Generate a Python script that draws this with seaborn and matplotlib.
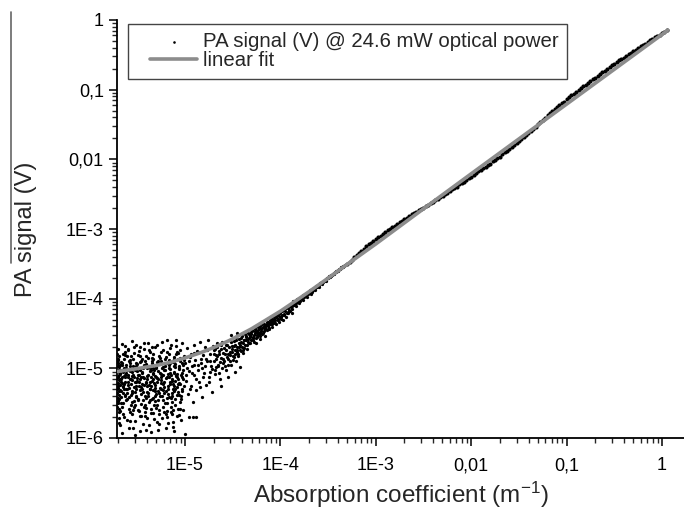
import matplotlib
matplotlib.use("Agg")
import matplotlib.pyplot as plt
import numpy as np
import pandas as pd
import seaborn as sns
from matplotlib.lines import Line2D
from matplotlib.collections import PathCollection
from matplotlib.legend_handler import HandlerLine2D, HandlerPathCollection
from matplotlib.ticker import NullFormatter

# ---- data (log10 of x and y for the scatter) ----
# dense noisy cloud, left edge up to 1E-5
cloud_a = [
    (-5.70, -5.21), (-5.69, -4.98), (-5.70, -5.47), (-5.68, -5.08), (-5.69, -5.62), (-5.70, -4.86), (-5.67, -5.33), (-5.68, -5.15), (-5.69, -5.79), (-5.66, -5.02),
    (-5.67, -4.91), (-5.65, -5.26), (-5.66, -5.55), (-5.64, -5.11), (-5.65, -4.79), (-5.63, -5.38), (-5.64, -5.70), (-5.62, -4.95), (-5.63, -5.19), (-5.61, -5.44),
    (-5.62, -5.06), (-5.60, -4.72), (-5.61, -5.29), (-5.59, -5.58), (-5.60, -5.13), (-5.58, -4.88), (-5.59, -5.86), (-5.57, -5.23), (-5.58, -5.01), (-5.56, -5.49),
    (-5.57, -4.83), (-5.55, -5.17), (-5.56, -5.66), (-5.54, -4.97), (-5.55, -5.35), (-5.53, -4.69), (-5.54, -5.09), (-5.52, -5.52), (-5.53, -5.27), (-5.51, -4.92),
    (-5.52, -5.75), (-5.50, -5.04), (-5.51, -5.41), (-5.49, -4.81), (-5.50, -5.18), (-5.48, -5.61), (-5.49, -4.99), (-5.47, -5.31), (-5.48, -4.75), (-5.46, -5.12),
    (-5.47, -5.90), (-5.45, -5.22), (-5.46, -4.89), (-5.44, -5.46), (-5.45, -5.05), (-5.43, -4.64), (-5.44, -5.34), (-5.42, -5.69), (-5.43, -5.14), (-5.41, -4.94),
    (-5.42, -5.39), (-5.40, -5.00), (-5.41, -5.57), (-5.39, -4.85), (-5.40, -5.25), (-5.38, -5.82), (-5.39, -5.10), (-5.37, -4.77), (-5.38, -5.48), (-5.36, -5.03),
    (-5.37, -5.30), (-5.35, -4.93), (-5.36, -5.64), (-5.34, -5.16), (-5.35, -4.70), (-5.33, -5.43), (-5.34, -5.07), (-5.32, -5.73), (-5.33, -4.87), (-5.31, -5.24),
    (-5.32, -5.53), (-5.30, -4.98), (-5.31, -5.11), (-5.29, -4.66), (-5.30, -5.37), (-5.28, -5.88), (-5.29, -5.20), (-5.27, -4.82), (-5.28, -5.45), (-5.26, -5.06),
    (-5.27, -5.60), (-5.25, -4.90), (-5.26, -5.28), (-5.24, -5.71), (-5.25, -5.13), (-5.23, -4.73), (-5.24, -5.40), (-5.22, -5.02), (-5.23, -5.55), (-5.21, -4.86),
    (-5.22, -5.19), (-5.20, -5.66), (-5.21, -4.96), (-5.19, -4.59), (-5.20, -5.32), (-5.18, -5.08), (-5.19, -5.50), (-5.17, -4.80), (-5.18, -5.78), (-5.16, -5.23),
    (-5.17, -5.00), (-5.15, -5.42), (-5.16, -4.71), (-5.14, -5.15), (-5.15, -5.62), (-5.13, -4.91), (-5.14, -5.35), (-5.12, -5.05), (-5.13, -5.84), (-5.11, -4.84),
    (-5.12, -5.26), (-5.10, -5.52), (-5.11, -4.97), (-5.09, -4.68), (-5.10, -5.18), (-5.08, -5.69), (-5.09, -5.09), (-5.07, -4.78), (-5.08, -5.38), (-5.06, -5.01),
    (-5.07, -5.58), (-5.05, -4.89), (-5.06, -5.21), (-5.04, -5.44), (-5.05, -4.74), (-5.03, -5.12), (-5.04, -5.74), (-5.02, -4.95), (-5.03, -5.30), (-5.01, -4.82),
    (-5.71, -5.05), (-5.71, -5.30), (-5.70, -5.12), (-5.71, -5.55), (-5.69, -5.38), (-5.70, -4.93), (-5.68, -5.24), (-5.71, -4.80), (-5.67, -5.50), (-5.66, -5.93),
    (-5.64, -5.00), (-5.62, -5.30), (-5.58, -5.15), (-5.55, -5.05), (-5.52, -5.20), (-5.49, -5.09), (-5.46, -5.27), (-5.43, -4.97), (-5.40, -5.15), (-5.37, -5.19),
    (-5.34, -4.99), (-5.31, -5.33), (-5.28, -5.04), (-5.25, -5.21), (-5.22, -4.92), (-5.19, -5.13), (-5.16, -5.01), (-5.13, -5.23), (-5.10, -4.94), (-5.07, -5.15),
    (-5.52, -5.95), (-5.36, -5.91), (-5.58, -5.76), (-5.44, -5.80), (-5.20, -5.86), (-5.11, -5.90), (-5.63, -4.68), (-5.56, -4.61), (-5.47, -4.70), (-5.39, -4.63),
]

# more of the same cloud
cloud_e = [
    (-5.695, -5.17), (-5.642, -4.87), (-5.583, -5.41), (-5.521, -5.03), (-5.478, -5.26), (-5.413, -4.82), (-5.357, -5.58), (-5.296, -5.14), (-5.238, -4.99), (-5.174, -5.37),
    (-5.118, -5.06), (-5.057, -5.22), (-5.686, -5.44), (-5.631, -5.09), (-5.574, -4.93), (-5.509, -5.29), (-5.456, -5.51), (-5.398, -5.11), (-5.342, -4.90), (-5.281, -5.33),
    (-5.223, -5.62), (-5.162, -4.88), (-5.103, -5.30), (-5.044, -5.09), (-5.703, -4.96), (-5.654, -5.66), (-5.597, -5.20), (-5.538, -4.78), (-5.487, -5.44), (-5.429, -5.24),
    (-5.371, -5.04), (-5.312, -5.47), (-5.254, -5.17), (-5.196, -4.84), (-5.139, -5.48), (-5.081, -5.27), (-5.024, -5.03), (-5.677, -5.31), (-5.618, -4.99), (-5.561, -5.53),
    (-5.503, -5.14), (-5.447, -4.86), (-5.389, -5.36), (-5.331, -5.08), (-5.273, -5.65), (-5.215, -5.27), (-5.157, -5.06), (-5.099, -4.79), (-5.041, -5.40), (-5.708, -5.36),
    (-5.664, -5.13), (-5.609, -4.83), (-5.552, -5.32), (-5.494, -5.60), (-5.437, -5.00), (-5.379, -4.74), (-5.321, -5.21), (-5.262, -5.39), (-5.204, -5.02), (-5.146, -5.55),
    (-5.088, -5.13), (-5.031, -4.92), (-5.691, -5.58), (-5.636, -5.22), (-5.579, -5.04), (-5.516, -4.96), (-5.462, -5.37), (-5.404, -5.19), (-5.347, -4.85), (-5.288, -5.52),
    (-5.231, -5.10), (-5.169, -4.95), (-5.112, -5.33), (-5.052, -5.58), (-5.699, -4.88), (-5.647, -5.50), (-5.588, -5.28), (-5.529, -5.12), (-5.471, -4.91), (-5.418, -5.63),
    (-5.362, -5.29), (-5.303, -5.00), (-5.246, -4.77), (-5.188, -5.43), (-5.131, -5.18), (-5.073, -4.86), (-5.015, -5.25), (-5.681, -5.03), (-5.625, -4.76), (-5.567, -5.15),
    (-5.512, -5.39), (-5.451, -5.07), (-5.393, -5.71), (-5.336, -5.31), (-5.277, -4.94), (-5.219, -5.36), (-5.158, -5.20), (-5.106, -4.98), (-5.047, -5.48), (-5.706, -5.26),
    (-5.659, -4.95), (-5.603, -5.35), (-5.546, -5.60), (-5.483, -5.20), (-5.425, -4.95), (-5.366, -5.46), (-5.308, -5.12), (-5.249, -5.30), (-5.192, -4.93), (-5.135, -5.66),
    (-5.077, -5.34), (-5.019, -5.16), (-5.688, -5.72), (-5.629, -5.40), (-5.571, -4.97), (-5.515, -5.25), (-5.459, -5.68), (-5.401, -5.34), (-5.344, -5.18), (-5.285, -4.89),
    (-5.227, -5.45), (-5.171, -5.12), (-5.115, -4.90), (-5.061, -5.38), (-5.693, -5.09), (-5.638, -5.30), (-5.581, -5.62), (-5.524, -5.34), (-5.468, -5.03), (-5.409, -5.43),
    (-5.352, -5.25), (-5.293, -5.77), (-5.235, -5.23), (-5.177, -5.29), (-5.121, -5.60), (-5.064, -4.97), (-5.701, -5.42), (-5.651, -5.27), (-5.594, -5.09), (-5.534, -5.47),
    (-5.476, -5.16), (-5.421, -5.53), (-5.368, -4.99), (-5.309, -5.40), (-5.251, -5.08), (-5.193, -5.61), (-5.136, -5.40), (-5.079, -5.08), (-5.021, -5.60), (-5.672, -5.19),
]

cloud_h = [
    (-5.712, -5.14), (-5.709, -4.90), (-5.705, -5.50), (-5.702, -5.02), (-5.698, -5.28), (-5.694, -4.83), (-5.690, -5.33), (-5.685, -5.07), (-5.682, -4.95), (-5.679, -5.61),
    (-5.673, -5.15), (-5.669, -5.41), (-5.661, -4.92), (-5.656, -5.21), (-5.649, -5.05), (-5.645, -5.36), (-5.633, -4.81), (-5.627, -5.12), (-5.615, -5.45), (-5.606, -5.02),
    (-5.592, -5.24), (-5.585, -4.90), (-5.569, -5.38), (-5.558, -5.11), (-5.543, -4.86), (-5.535, -5.56), (-5.518, -5.19), (-5.505, -4.94), (-5.491, -5.46), (-5.482, -5.10),
    (-5.466, -4.83), (-5.453, -5.29), (-5.441, -5.13), (-5.432, -5.55), (-5.416, -4.90), (-5.407, -5.21), (-5.391, -5.40), (-5.383, -4.97), (-5.374, -5.24), (-5.359, -5.12),
    (-5.349, -5.44), (-5.334, -4.79), (-5.326, -5.03), (-5.315, -5.28), (-5.301, -5.57), (-5.292, -4.91), (-5.283, -5.16), (-5.269, -5.35), (-5.258, -4.85), (-5.244, -5.09),
    (-5.233, -5.31), (-5.226, -4.98), (-5.212, -5.50), (-5.201, -5.14), (-5.186, -4.76), (-5.179, -5.25), (-5.166, -5.41), (-5.153, -4.93), (-5.144, -5.09), (-5.128, -5.30),
    (-5.119, -4.87), (-5.108, -5.44), (-5.094, -5.11), (-5.086, -4.77), (-5.069, -5.23), (-5.058, -5.00), (-5.049, -4.85), (-5.036, -5.33), (-5.027, -5.07), (-5.012, -4.88),
    (-5.685, -5.82), (-5.611, -5.74), (-5.542, -5.85), (-5.474, -5.69), (-5.406, -5.88), (-5.338, -5.64), (-5.269, -5.80), (-5.189, -5.70), (-5.128, -5.77), (-5.066, -5.67),
    (-5.706, -4.72), (-5.660, -4.65), (-5.602, -4.74), (-5.511, -4.66), (-5.432, -4.72), (-5.318, -4.70), (-5.241, -4.62), (-5.151, -4.66), (-5.093, -4.60), (-5.029, -4.64),
]

# 1E-5 to 2E-5
cloud_b = [
    (-5.00, -4.92), (-4.99, -5.18), (-4.98, -4.71), (-4.97, -5.37), (-4.96, -5.04), (-4.95, -4.84), (-4.94, -5.26), (-4.93, -4.97), (-4.92, -5.48), (-4.91, -4.66),
    (-4.90, -5.10), (-4.89, -4.88), (-4.88, -5.31), (-4.87, -4.75), (-4.86, -5.02), (-4.85, -5.19), (-4.84, -4.62), (-4.83, -4.93), (-4.82, -5.41), (-4.81, -4.81),
    (-4.80, -5.07), (-4.79, -4.70), (-4.78, -5.24), (-4.77, -4.89), (-4.76, -4.60), (-4.75, -5.12), (-4.74, -4.79), (-4.73, -4.97), (-4.72, -5.34), (-4.71, -4.68),
    (-4.98, -5.00), (-4.94, -4.80), (-4.90, -4.95), (-4.86, -4.77), (-4.82, -5.00), (-4.78, -4.86), (-4.74, -5.05),
    (-4.96, -5.70), (-4.92, -5.70), (-4.88, -5.70), (-5.00, -5.94),
]

# 2E-5 to 5E-5
cloud_c = [
    (-4.70, -4.90), (-4.69, -4.72), (-4.68, -5.08), (-4.67, -4.81), (-4.66, -4.64), (-4.65, -4.96), (-4.64, -4.75), (-4.63, -5.15), (-4.62, -4.85), (-4.61, -4.62),
    (-4.60, -4.93), (-4.59, -4.71), (-4.58, -4.80), (-4.57, -5.02), (-4.56, -4.66), (-4.55, -4.87), (-4.54, -4.59), (-4.53, -4.76), (-4.52, -4.95), (-4.51, -4.68),
    (-4.50, -4.82), (-4.49, -4.61), (-4.48, -4.73), (-4.47, -4.90), (-4.46, -4.55), (-4.45, -4.69), (-4.44, -4.80), (-4.43, -4.58), (-4.42, -4.66), (-4.41, -4.75),
    (-4.40, -4.54), (-4.39, -4.63), (-4.38, -4.71), (-4.37, -4.51), (-4.36, -4.59), (-4.35, -4.67), (-4.34, -4.49), (-4.33, -4.56), (-4.32, -4.63), (-4.31, -4.48),
    (-4.55, -5.12), (-4.48, -5.05), (-4.62, -5.25), (-4.42, -4.98), (-4.52, -4.52), (-4.45, -4.50),
]

# extra points 1E-5 .. 1.3E-4
cloud_f = [
    (-4.985, -5.09), (-4.962, -4.90), (-4.947, -5.30), (-4.923, -5.06), (-4.905, -4.78), (-4.884, -5.15), (-4.867, -4.95), (-4.846, -5.27), (-4.828, -4.86), (-4.809, -5.13),
    (-4.791, -4.96), (-4.773, -4.74), (-4.752, -5.20), (-4.734, -4.90), (-4.716, -5.01), (-4.698, -4.80), (-4.677, -4.98), (-4.659, -4.83), (-4.638, -5.06), (-4.621, -4.72),
    (-4.603, -4.86), (-4.584, -4.97), (-4.566, -4.74), (-4.548, -4.80), (-4.527, -4.89), (-4.508, -4.72), (-4.489, -4.84), (-4.471, -4.66), (-4.452, -4.77), (-4.433, -4.70),
    (-4.415, -4.62), (-4.396, -4.73), (-4.377, -4.60), (-4.359, -4.53), (-4.341, -4.62), (-4.322, -4.55), (-4.304, -4.51), (-4.286, -4.57), (-4.268, -4.47), (-4.249, -4.52),
    (-4.231, -4.45), (-4.213, -4.53), (-4.195, -4.42), (-4.176, -4.46), (-4.158, -4.40), (-4.139, -4.37), (-4.121, -4.43), (-4.103, -4.34), (-4.085, -4.37), (-4.066, -4.34),
    (-4.048, -4.37), (-4.029, -4.31), (-4.011, -4.33), (-3.993, -4.27), (-3.975, -4.30), (-3.957, -4.24), (-3.938, -4.26), (-3.919, -4.20), (-3.901, -4.18), (-3.883, -4.21),
]

# transition band 2E-5 .. 5E-4
cloud_g = [
    (-4.695, -4.74), (-4.687, -5.02), (-4.672, -4.86), (-4.664, -4.69), (-4.651, -4.95), (-4.643, -4.79), (-4.628, -4.91), (-4.619, -4.66), (-4.607, -4.99), (-4.596, -4.78),
    (-4.588, -4.90), (-4.574, -4.67), (-4.563, -4.84), (-4.552, -4.95), (-4.541, -4.70), (-4.533, -4.81), (-4.519, -4.62), (-4.507, -4.77), (-4.498, -4.88), (-4.486, -4.68),
    (-4.474, -4.79), (-4.463, -4.60), (-4.455, -4.73), (-4.442, -4.83), (-4.431, -4.64), (-4.423, -4.74), (-4.411, -4.57), (-4.404, -4.69), (-4.392, -4.78), (-4.383, -4.59),
    (-4.371, -4.67), (-4.362, -4.55), (-4.353, -4.72), (-4.344, -4.58), (-4.333, -4.51), (-4.325, -4.64), (-4.317, -4.54), (-4.306, -4.60), (-4.297, -4.47), (-4.288, -4.55),
    (-4.279, -4.62), (-4.271, -4.50), (-4.262, -4.44), (-4.253, -4.56), (-4.244, -4.47), (-4.236, -4.52), (-4.227, -4.42), (-4.218, -4.49), (-4.209, -4.39), (-4.201, -4.46),
    (-4.192, -4.51), (-4.184, -4.40), (-4.175, -4.36), (-4.166, -4.44), (-4.157, -4.38), (-4.148, -4.43), (-4.139, -4.33), (-4.131, -4.39), (-4.122, -4.35), (-4.113, -4.30),
    (-4.104, -4.37), (-4.096, -4.32), (-4.087, -4.27), (-4.078, -4.35), (-4.069, -4.29), (-4.061, -4.24), (-4.052, -4.31), (-4.043, -4.27), (-4.034, -4.22), (-4.026, -4.29),
    (-4.017, -4.25), (-4.008, -4.20), (-3.995, -4.29), (-3.986, -4.23), (-3.972, -4.16), (-3.965, -4.22), (-3.953, -4.18), (-3.944, -4.12), (-3.931, -4.20), (-3.923, -4.13),
    (-3.912, -4.09), (-3.905, -4.16), (-3.893, -4.12), (-3.885, -4.07), (-3.874, -4.10), (-3.866, -4.04), (-3.853, -4.09), (-3.845, -4.03), (-3.833, -4.06), (-3.825, -4.00),
    (-3.813, -4.04), (-3.806, -3.99), (-3.793, -4.03), (-3.785, -3.97), (-3.773, -4.00), (-3.766, -3.95), (-3.753, -3.98), (-3.745, -3.93), (-3.733, -3.96), (-3.726, -3.92),
    (-3.713, -3.94), (-3.706, -3.90), (-3.693, -3.92), (-3.686, -3.88), (-3.673, -3.90), (-3.666, -3.86), (-3.653, -3.87), (-3.646, -3.84), (-3.633, -3.85), (-3.626, -3.82),
    (-3.613, -3.83), (-3.606, -3.80), (-3.593, -3.81), (-3.586, -3.78), (-3.573, -3.78), (-3.566, -3.76), (-3.553, -3.76), (-3.546, -3.74), (-3.533, -3.73), (-3.526, -3.72),
    (-3.513, -3.71), (-3.506, -3.70), (-3.493, -3.69), (-3.486, -3.68), (-3.473, -3.67), (-3.466, -3.66), (-3.453, -3.65), (-3.446, -3.64), (-3.433, -3.63), (-3.426, -3.62),
    (-3.413, -3.61), (-3.406, -3.60), (-3.393, -3.59), (-3.386, -3.58), (-3.373, -3.57), (-3.366, -3.56), (-3.353, -3.55), (-3.346, -3.54), (-3.333, -3.53), (-3.326, -3.52),
]

# 5E-5 to 5E-4, band narrowing
cloud_d = [
    (-4.30, -4.45), (-4.29, -4.60), (-4.28, -4.52), (-4.27, -4.41), (-4.26, -4.63), (-4.25, -4.48), (-4.24, -4.55), (-4.23, -4.40), (-4.22, -4.50), (-4.21, -4.58),
    (-4.20, -4.44), (-4.19, -4.36), (-4.18, -4.49), (-4.17, -4.41), (-4.16, -4.53), (-4.15, -4.38), (-4.14, -4.45), (-4.13, -4.33), (-4.12, -4.42), (-4.11, -4.36),
    (-4.10, -4.29), (-4.09, -4.40), (-4.08, -4.31), (-4.07, -4.25), (-4.06, -4.35), (-4.05, -4.27), (-4.04, -4.22), (-4.03, -4.30), (-4.02, -4.24), (-4.01, -4.19),
    (-4.00, -4.26), (-3.98, -4.18), (-3.96, -4.23), (-3.94, -4.14), (-3.92, -4.19), (-3.90, -4.10), (-3.88, -4.15), (-3.86, -4.07), (-3.84, -4.11), (-3.82, -4.03),
    (-3.80, -4.06), (-3.78, -3.99), (-3.76, -4.02), (-3.74, -3.95), (-3.72, -3.98), (-3.70, -3.90), (-3.68, -3.93), (-3.66, -3.86), (-3.64, -3.88), (-3.62, -3.82),
    (-3.60, -3.83), (-3.58, -3.78), (-3.56, -3.79), (-3.54, -3.74), (-3.52, -3.75), (-3.50, -3.70), (-3.48, -3.69), (-3.46, -3.66), (-3.44, -3.64), (-3.42, -3.62),
    (-3.40, -3.60), (-3.38, -3.58), (-3.36, -3.55), (-3.34, -3.53), (-3.32, -3.51),
]

# tight band from 5E-4 up to ~1.1
band_lx = [
    -3.300, -3.275, -3.250, -3.225, -3.200, -3.175, -3.150, -3.125, -3.100, -3.075, -3.050, -3.025,
    -3.000, -2.975, -2.950, -2.925, -2.900, -2.875, -2.850, -2.825, -2.800, -2.775, -2.750, -2.725,
    -2.700, -2.675, -2.650, -2.625, -2.600, -2.575, -2.550, -2.525, -2.500, -2.475, -2.450, -2.425,
    -2.400, -2.375, -2.350, -2.325, -2.300, -2.275, -2.250, -2.225, -2.200, -2.175, -2.150, -2.125,
    -2.100, -2.075, -2.050, -2.025, -2.000, -1.975, -1.950, -1.925, -1.900, -1.875, -1.850, -1.825,
    -1.800, -1.775, -1.750, -1.725, -1.700, -1.675, -1.650, -1.625, -1.600, -1.575, -1.550, -1.525,
    -1.500, -1.475, -1.450, -1.425, -1.400, -1.375, -1.350, -1.325, -1.300, -1.275, -1.250, -1.225,
    -1.200, -1.175, -1.150, -1.125, -1.100, -1.075, -1.050, -1.025, -1.000, -0.975, -0.950, -0.925,
    -0.900, -0.875, -0.850, -0.825, -0.800, -0.775, -0.750, -0.725, -0.700, -0.675, -0.650, -0.625,
    -0.600, -0.575, -0.550, -0.525, -0.500, -0.475, -0.450, -0.425, -0.400, -0.375, -0.350, -0.325,
    -0.300, -0.275, -0.250, -0.225, -0.200, -0.175, -0.150, -0.125, -0.100, -0.075, -0.050, -0.025,
    0.000, 0.025, 0.050,
]
band_ly = [
    -3.50, -3.47, -3.44, -3.40, -3.37, -3.34, -3.31, -3.28, -3.25, -3.22, -3.20, -3.17,
    -3.15, -3.12, -3.10, -3.07, -3.05, -3.02, -3.00, -2.97, -2.95, -2.93, -2.90, -2.88,
    -2.86, -2.84, -2.81, -2.79, -2.77, -2.75, -2.73, -2.71, -2.70, -2.67, -2.65, -2.63,
    -2.61, -2.59, -2.57, -2.54, -2.52, -2.50, -2.48, -2.45, -2.43, -2.41, -2.39, -2.36,
    -2.34, -2.32, -2.30, -2.27, -2.25, -2.22, -2.20, -2.17, -2.15, -2.13, -2.11, -2.08,
    -2.06, -2.03, -2.01, -1.98, -1.96, -1.93, -1.90, -1.88, -1.85, -1.82, -1.79, -1.77,
    -1.74, -1.71, -1.68, -1.65, -1.62, -1.59, -1.56, -1.53, -1.50, -1.47, -1.44, -1.40,
    -1.37, -1.34, -1.31, -1.28, -1.25, -1.22, -1.19, -1.17, -1.14, -1.11, -1.08, -1.06,
    -1.03, -1.00, -0.98, -0.95, -0.93, -0.90, -0.88, -0.85, -0.83, -0.80, -0.78, -0.75,
    -0.73, -0.70, -0.68, -0.65, -0.63, -0.61, -0.58, -0.56, -0.54, -0.52, -0.49, -0.47,
    -0.45, -0.43, -0.40, -0.38, -0.36, -0.34, -0.32, -0.29, -0.27, -0.25, -0.23, -0.21,
    -0.19, -0.17, -0.15,
]

# linear fit curve
fit_x = [1.94e-6, 3e-6, 5e-6, 7e-6, 1e-5, 1.5e-5, 2e-5, 3e-5, 5e-5, 7e-5, 1e-4, 1.5e-4, 2e-4,
         3e-4, 5e-4, 1e-3, 3e-3, 1e-2, 0.1, 1.0, 1.15]
fit_y = [9.0e-6, 9.8e-6, 1.1e-5, 1.22e-5, 1.41e-5, 1.7e-5, 1.99e-5, 2.55e-5, 3.7e-5, 4.9e-5,
         6.6e-5, 9.6e-5, 1.26e-4, 1.87e-4, 3.1e-4, 6.1e-4, 1.85e-3, 6.2e-3, 6.2e-2, 0.62, 0.713]

x_ticks = [1e-5, 1e-4, 1e-3, 1e-2, 1e-1, 1]
x_tick_labels = ["1E-5", "1E-4", "1E-3", "0,01", "0,1", "1"]
y_ticks = [1e-6, 1e-5, 1e-4, 1e-3, 1e-2, 1e-1, 1]
y_tick_labels = ["1E-6", "1E-5", "1E-4", "1E-3", "0,01", "0,1", "1"]

# ---- build frames ----
cloud = pd.DataFrame(cloud_a + cloud_e + cloud_h + cloud_b + cloud_c + cloud_f + cloud_g + cloud_d,
                     columns=["lx", "ly"])
cloud["x"] = 10 ** cloud["lx"]
cloud["y"] = 10 ** cloud["ly"]
band = pd.DataFrame({"x": 10 ** np.array(band_lx), "y": 10 ** np.array(band_ly)})
fit = pd.DataFrame({"x": fit_x, "y": fit_y})

sns.set_theme(style="ticks")
plt.rcParams["font.family"] = ["Liberation Sans", "DejaVu Sans"]
plt.rcParams["mathtext.default"] = "regular"

fig = plt.figure(figsize=(6.84, 5.12), dpi=100)
ax = fig.add_axes([117 / 684, 74 / 512, 567 / 684, 418 / 512])
ax.set_xscale("log")
ax.set_yscale("log")

sns.scatterplot(data=cloud, x="x", y="y", ax=ax, color="black", s=5.5, linewidth=0,
                label="PA signal (V) @ 24.6 mW optical power", zorder=2)
sns.scatterplot(data=band, x="x", y="y", ax=ax, color="black", s=9, linewidth=0,
                legend=False, zorder=2)
sns.lineplot(data=fit, x="x", y="y", ax=ax, color="#8c8c8c", lw=2.6,
             label="linear fit", zorder=3)

ax.set_xlim(1.94e-6, 1.7)
ax.set_ylim(1e-6, 1)
ax.set_xticks(x_ticks)
ax.set_xticklabels(x_tick_labels)
ax.set_yticks(y_ticks)
ax.set_yticklabels(y_tick_labels)
ax.xaxis.set_minor_formatter(NullFormatter())
ax.yaxis.set_minor_formatter(NullFormatter())
ax.tick_params(which="major", direction="out", length=6, width=1.1, labelsize=13, colors="black")
ax.tick_params(which="minor", direction="out", length=3.5, width=1.0)
ax.tick_params(axis="x", pad=8)

for s in ["top", "right"]:
    ax.spines[s].set_visible(False)
for s in ["left", "bottom"]:
    ax.spines[s].set_linewidth(1.3)
    ax.spines[s].set_color("black")

ax.set_xlabel("Absorption coefficient (m$^{-1}$)", fontsize=17.5, labelpad=4)
ax.set_ylabel("PA signal (V)", fontsize=17, labelpad=21)

leg = ax.legend(loc="upper left", bbox_to_anchor=(0.019, 0.99), borderaxespad=0,
                fontsize=14.7, frameon=True, fancybox=False, framealpha=1,
                handlelength=3.0, handletextpad=0.3, labelspacing=0.0, borderpad=0.4,
                markerscale=0.8,
                handler_map={Line2D: HandlerLine2D(xpad=0.7),
                             PathCollection: HandlerPathCollection(xpad=0.7)})
leg.get_frame().set_edgecolor("#444444")
leg.get_frame().set_linewidth(1.0)

# stray vertical rule on the left edge of the scan
fig.add_artist(Line2D([11 / 684, 11 / 684], [1 - 12 / 512, 1 - 263 / 512], color="#666666", lw=1.2))

fig.savefig("out.png", dpi=100)
